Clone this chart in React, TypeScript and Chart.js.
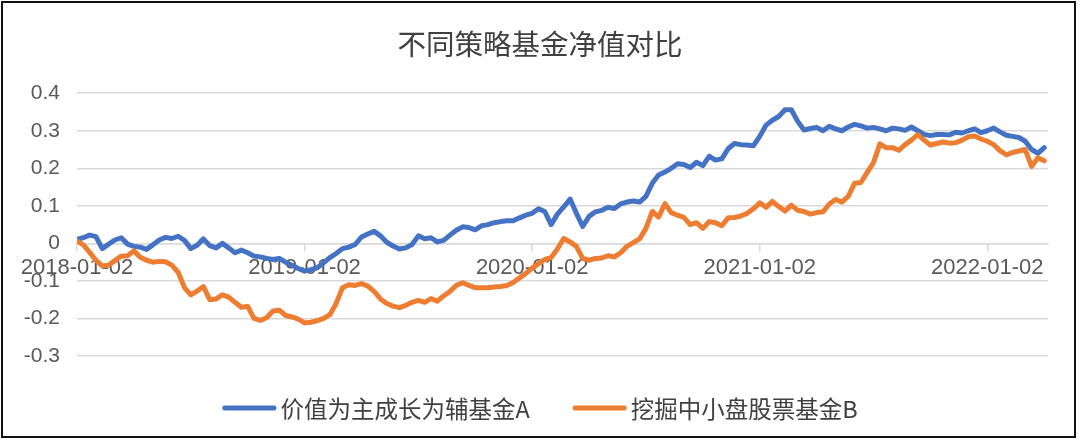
import React, { useEffect, useRef } from "react";
import { Chart, registerables } from "chart.js";

Chart.register(...registerables);

const chartTitle = "不同策略基金净值对比";
const seriesNames = ["价值为主成长为辅基金A", "挖掘中小盘股票基金B"];
const seriesColors = ["#4472C4", "#ED7D31"];
// x tick labels and the sample index (samples taken every ~1/3 month) at which each date falls
const xTickLabels = ["2018-01-02", "2019-01-02", "2020-01-02", "2021-01-02", "2022-01-02"];
const xTickIndex = [0, 36, 72, 108, 144];
const yTickValues = [-0.3, -0.2, -0.1, 0, 0.1, 0.2, 0.3, 0.4];

const fundA = [
  0.011, 0.015, 0.022, 0.018, -0.014, -0.002, 0.009, 0.015, -0.002, -0.008,
  -0.010, -0.016, -0.004, 0.009, 0.016, 0.013, 0.019, 0.008, -0.014, -0.005,
  0.012, -0.006, -0.012, 0.000, -0.012, -0.025, -0.018, -0.025, -0.034, -0.036,
  -0.040, -0.043, -0.040, -0.050, -0.058, -0.067, -0.074, -0.070, -0.065, -0.052,
  -0.038, -0.027, -0.014, -0.010, -0.003, 0.017, 0.025, 0.032, 0.020, 0.003,
  -0.007, -0.015, -0.012, -0.003, 0.020, 0.012, 0.015, 0.004, 0.008, 0.022,
  0.035, 0.044, 0.042, 0.036, 0.047, 0.050, 0.055, 0.058, 0.060, 0.060,
  0.068, 0.075, 0.080, 0.092, 0.085, 0.050, 0.078, 0.097, 0.118, 0.080,
  0.045, 0.072, 0.084, 0.088, 0.096, 0.093, 0.105, 0.110, 0.113, 0.110,
  0.125, 0.160, 0.182, 0.190, 0.200, 0.212, 0.210, 0.202, 0.216, 0.207,
  0.232, 0.222, 0.225, 0.252, 0.266, 0.263, 0.262, 0.260, 0.285, 0.315,
  0.328, 0.338, 0.356, 0.356, 0.325, 0.302, 0.306, 0.309, 0.300, 0.312,
  0.305, 0.300, 0.310, 0.317, 0.313, 0.307, 0.309, 0.305, 0.300, 0.307,
  0.305, 0.301, 0.310, 0.300, 0.290, 0.287, 0.290, 0.290, 0.289, 0.296,
  0.294, 0.300, 0.305, 0.295, 0.300, 0.307, 0.297, 0.288, 0.285, 0.282,
  0.272, 0.250, 0.240, 0.255,
];

const fundB = [
  0.006, -0.004, -0.024, -0.045, -0.060, -0.058, -0.046, -0.034, -0.033, -0.020,
  -0.037, -0.045, -0.050, -0.048, -0.049, -0.058, -0.077, -0.118, -0.137, -0.127,
  -0.115, -0.150, -0.148, -0.137, -0.143, -0.157, -0.170, -0.168, -0.200, -0.205,
  -0.198, -0.180, -0.178, -0.192, -0.196, -0.202, -0.212, -0.210, -0.206, -0.200,
  -0.190, -0.160, -0.118, -0.110, -0.112, -0.107, -0.114, -0.128, -0.148, -0.160,
  -0.167, -0.171, -0.165, -0.157, -0.152, -0.157, -0.147, -0.154, -0.140, -0.128,
  -0.112, -0.105, -0.112, -0.118, -0.118, -0.118, -0.116, -0.115, -0.112, -0.104,
  -0.092, -0.080, -0.066, -0.054, -0.043, -0.038, -0.015, 0.013, 0.004, -0.008,
  -0.040, -0.045, -0.040, -0.039, -0.033, -0.036, -0.025, -0.008, 0.002, 0.012,
  0.040, 0.085, 0.070, 0.106, 0.082, 0.075, 0.069, 0.050, 0.055, 0.040,
  0.058, 0.055, 0.047, 0.068, 0.069, 0.073, 0.080, 0.092, 0.108, 0.096,
  0.112, 0.098, 0.086, 0.102, 0.088, 0.085, 0.078, 0.082, 0.084, 0.105,
  0.117, 0.110, 0.125, 0.160, 0.162, 0.189, 0.215, 0.265, 0.255, 0.255,
  0.248, 0.263, 0.275, 0.290, 0.275, 0.262, 0.266, 0.270, 0.267, 0.268,
  0.275, 0.284, 0.286, 0.278, 0.272, 0.263, 0.247, 0.236, 0.242, 0.246,
  0.250, 0.205, 0.228, 0.220,
];

const numFont = "'Liberation Sans', Arial, sans-serif";
const cjkFont = "'Noto Sans CJK SC', sans-serif";

// Excel-like legend: short thick line sample, small gap, then text; centered under the chart.
const excelLegend = {
  id: "excelLegend",
  afterDraw(chart: any) {
    const ctx = chart.ctx as CanvasRenderingContext2D;
    const sampleW = 54;
    const sampleH = 5;
    const gap = 4;
    const itemGap = 43;
    const cy = 408;
    ctx.save();
    ctx.font = `23.5px ${cjkFont}`;
    ctx.textBaseline = "middle";
    ctx.textAlign = "left";
    const items = chart.data.datasets.map((ds: any) => ({
      text: ds.label as string,
      color: ds.borderColor as string,
      w: sampleW + gap + ctx.measureText(ds.label).width,
    }));
    const total = items.reduce((a: number, it: any) => a + it.w, 0) + itemGap * (items.length - 1);
    let x = (chart.width - total) / 2;
    items.forEach((it: any) => {
      ctx.fillStyle = it.color;
      ctx.beginPath();
      ctx.roundRect(x, cy - sampleH / 2, sampleW, sampleH, 2);
      ctx.fill();
      ctx.fillStyle = "#404040";
      ctx.fillText(it.text, x + sampleW + gap, cy + 1);
      x += it.w + itemGap;
    });
    ctx.restore();
  },
};

export default function App() {
  const ref = useRef<HTMLCanvasElement>(null);

  useEffect(() => {
    document.body.style.margin = "0";
    const chart = new Chart(ref.current as HTMLCanvasElement, {
      type: "line",
      data: {
        datasets: [fundA, fundB].map((vals, k) => ({
          label: seriesNames[k],
          data: vals.map((y, i) => ({ x: i, y })),
          borderColor: seriesColors[k],
          backgroundColor: seriesColors[k],
          borderWidth: 5,
          pointRadius: 0,
          tension: 0,
          borderJoinStyle: "round" as const,
          borderCapStyle: "round" as const,
          order: 1 - k,
        })),
      },
      plugins: [excelLegend],
      options: {
        animation: false,
        responsive: false,
        layout: { padding: { left: 0, right: 0, top: 0, bottom: 86 } },
        plugins: {
          title: {
            display: true,
            text: chartTitle,
            color: "#404040",
            font: { family: cjkFont, size: 28.5, weight: "normal" },
            padding: { top: 27, bottom: 32 },
          },
          legend: { display: false },
          tooltip: { enabled: false },
        },
        scales: {
          x: {
            type: "linear",
            min: 0,
            max: 153.6,
            position: { y: 0 } as any,
            afterBuildTicks: (s: any) => {
              s.ticks = xTickIndex.map((v) => ({ value: v }));
            },
            ticks: {
              autoSkip: false,
              maxRotation: 0,
              minRotation: 0,
              padding: 4,
              color: "#595959",
              font: { family: numFont, size: 22 },
              callback: (v: any) => {
                const k = xTickIndex.indexOf(Number(v));
                return k >= 0 ? xTickLabels[k] : "";
              },
            },
            grid: { drawOnChartArea: false, drawTicks: true, tickLength: 7, color: "#d9d9d9", lineWidth: 1.5 },
            border: { display: true, color: "#d9d9d9", width: 1.5 },
          },
          y: {
            type: "linear",
            min: -0.3,
            max: 0.4,
            afterBuildTicks: (s: any) => {
              s.ticks = yTickValues.map((v) => ({ value: v }));
            },
            afterFit: (s: any) => {
              s.width = 77;
            },
            ticks: {
              padding: 17,
              color: "#595959",
              font: { family: numFont, size: 21 },
              callback: (v: any) => String(Math.round(Number(v) * 10) / 10),
            },
            grid: { color: "#d9d9d9", lineWidth: 1.5, drawTicks: false },
            border: { display: false },
          },
          yRightSpace: {
            type: "linear",
            position: "right",
            display: true,
            min: -0.3,
            max: 0.4,
            afterFit: (s: any) => {
              s.width = 32;
            },
            ticks: { display: false },
            grid: { display: false, drawTicks: false },
            border: { display: false },
          },
        },
      },
    });
    return () => chart.destroy();
  }, []);

  return (
    <div style={{ position: "relative", width: 1080, height: 442, background: "#fff" }}>
      <canvas ref={ref} width={1080} height={442} style={{ display: "block" }} />
      <div
        style={{
          position: "absolute",
          left: 1,
          top: 1,
          width: 1071,
          height: 433,
          border: "2px solid #111",
          pointerEvents: "none",
        }}
      />
    </div>
  );
}
